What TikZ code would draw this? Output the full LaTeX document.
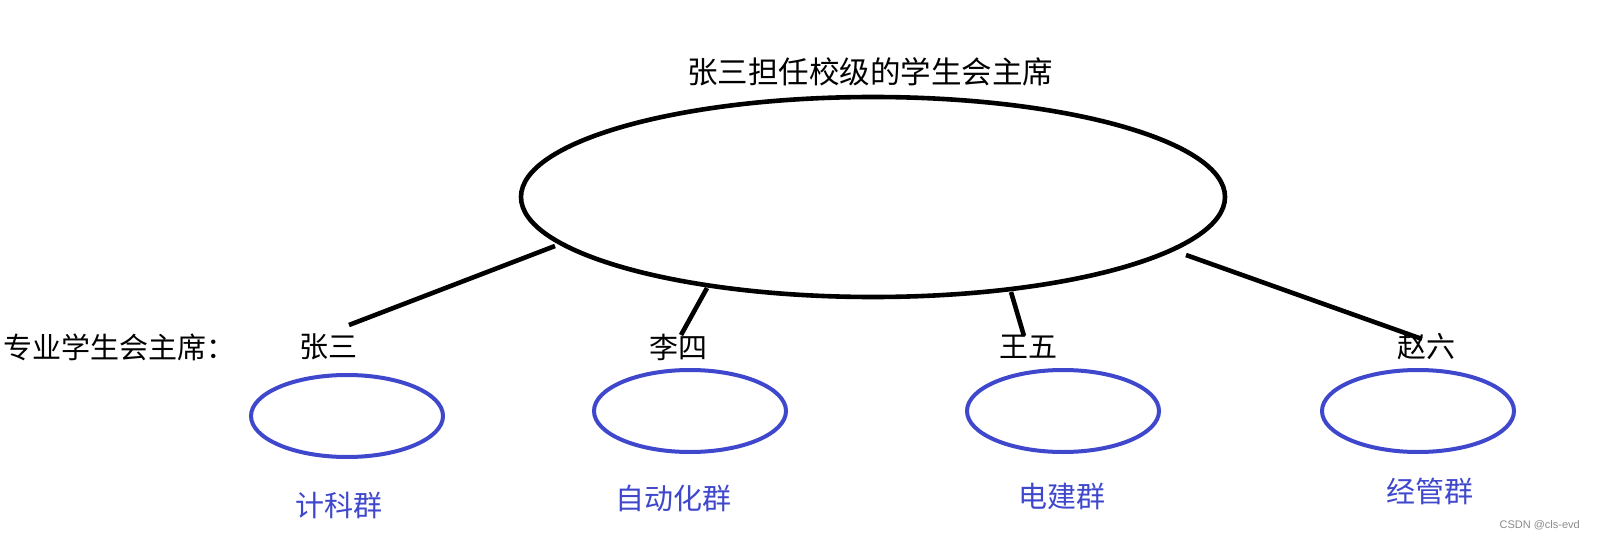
\documentclass[tikz,border=0pt]{standalone}
\usepackage{fontspec}
\setmainfont{Liberation Sans}
\newfontfamily\cjk{Noto Sans CJK SC}
\usetikzlibrary{shapes.geometric}
\definecolor{indigo}{RGB}{63,72,204}
\begin{document}
\begin{tikzpicture}[x=1pt,y=-1pt,
  bigoval/.style={draw=black,line width=4.6pt,ellipse,minimum width=704pt,minimum height=200pt,inner sep=0pt},
  groupoval/.style={draw=indigo,line width=4pt,ellipse,minimum width=192pt,minimum height=82pt,inner sep=0pt},
  link/.style={draw=black,line width=4.6pt},
  lbl/.style={font=\cjk\fontsize{29pt}{33pt}\selectfont,inner sep=0pt},
  grp/.style={font=\cjk\fontsize{29pt}{33pt}\selectfont,text=indigo,inner sep=0pt},
  wmark/.style={font=\fontsize{11pt}{13pt}\selectfont,text=black!45,inner sep=0pt}
]
\useasboundingbox[fill=white] (0,0) rectangle (1597,540);

% title and main oval
\node[lbl,font=\cjk\fontsize{30.5pt}{34pt}\selectfont] (title) at (870,72) {张三担任校级的学生会主席};
\node[bigoval] (big) at (873,197) {};

% row of labels
\node[lbl,anchor=west] (head) at (3,347) {专业学生会主席：};
\node[lbl] (p1) at (328,347) {张三};
\node[lbl] (p2) at (678,347) {李四};
\node[lbl] (p3) at (1028,347) {王五};
\node[lbl] (p4) at (1426,347) {赵六};

% connector ends
\coordinate (s1) at (555,246);
\coordinate (s2) at (707,288);
\coordinate (s3) at (1011,292);
\coordinate (s4) at (1186,255);
\coordinate (e1) at (349,325);
\coordinate (e2) at (681,335);
\coordinate (e3) at (1024,336);
\coordinate (e4) at (1422,339);

\draw[link] (s1) -- (e1);
\draw[link] (s2) -- (e2);
\draw[link] (s3) -- (e3);
\draw[link] (s4) -- (e4);

% group ovals
\node[groupoval] (g1) at (347,416) {};
\node[groupoval] (g2) at (690,411) {};
\node[groupoval] (g3) at (1063,411) {};
\node[groupoval] (g4) at (1418,411) {};

% group names
\node[grp] (n1) at (339,505) {计科群};
\node[grp] (n2) at (673,498) {自动化群};
\node[grp] (n3) at (1062,496) {电建群};
\node[grp] (n4) at (1430,491) {经管群};

% watermark
\node[wmark,anchor=east] (wm) at (1580,525) {CSDN @cls-evd};
\end{tikzpicture}
\end{document}
